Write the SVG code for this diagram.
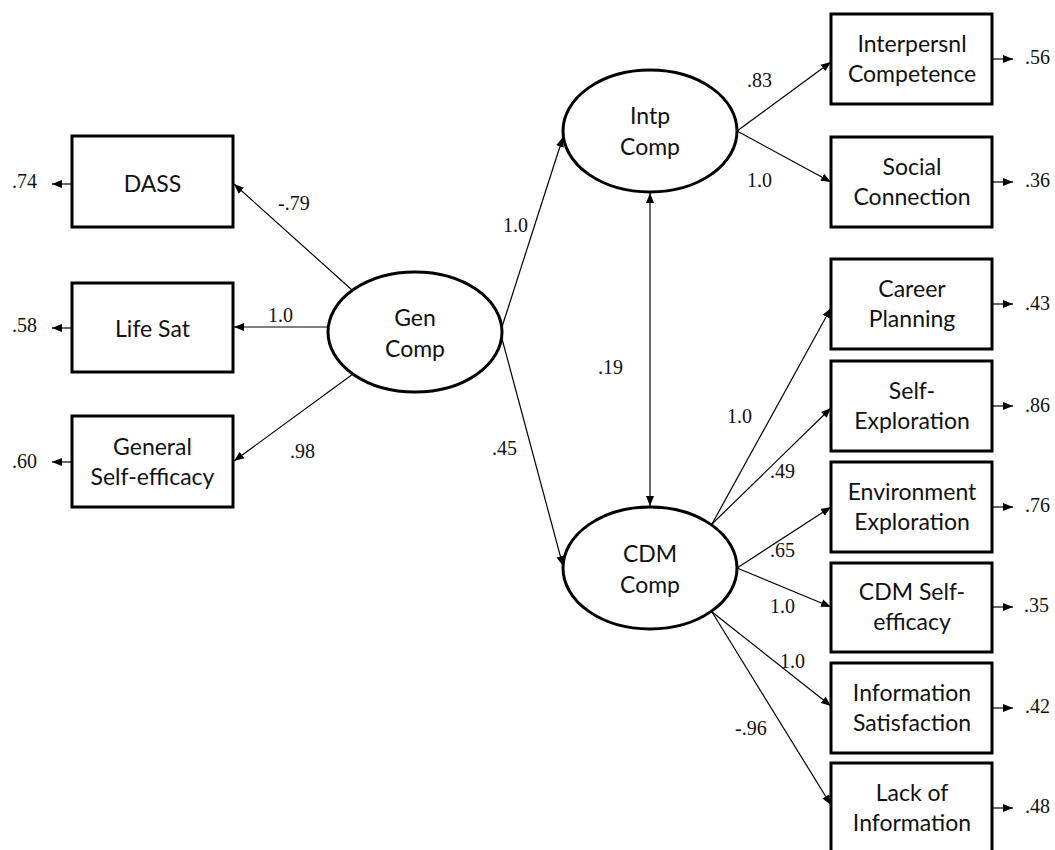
<svg xmlns="http://www.w3.org/2000/svg" width="1055" height="850" viewBox="0 0 1055 850">
<defs>
<marker id="ah" markerUnits="userSpaceOnUse" markerWidth="11" markerHeight="9" refX="10" refY="4" orient="auto-start-reverse" viewBox="0 0 11 8">
<path d="M0,0 L10,4 L0,8 z" fill="#000"/>
</marker>
<style>
.box{fill:#fff;stroke:#000;stroke-width:3}
.ell{fill:#fff;stroke:#000;stroke-width:3}
.t{font-family:Lato,"Open Sans",sans-serif;font-size:23px;fill:#111;text-anchor:middle}
.n{font-family:"Liberation Serif","Times New Roman",serif;font-size:20px;fill:#111}
.c{stroke:#000;stroke-width:1.2;fill:none;marker-end:url(#ah)}
.d{stroke:#000;stroke-width:1.2;fill:none;marker-end:url(#ah);marker-start:url(#ah)}
</style>
</defs>
<rect width="1055" height="850" fill="#fff"/>
<g id="connectors">
<line class="c" x1="352" y1="290" x2="234" y2="184"/>
<line class="c" x1="328" y1="327" x2="234" y2="327"/>
<line class="c" x1="353" y1="374" x2="234" y2="461"/>
<line class="c" x1="501" y1="330" x2="563" y2="137"/>
<line class="c" x1="501" y1="335" x2="563" y2="566"/>
<line class="d" x1="650" y1="193" x2="650" y2="506"/>
<line class="c" x1="737" y1="131" x2="831" y2="62"/>
<line class="c" x1="737" y1="131" x2="831" y2="182"/>
<line class="c" x1="712" y1="524" x2="831" y2="308"/>
<line class="c" x1="712" y1="524" x2="831" y2="408"/>
<line class="c" x1="737" y1="568" x2="831" y2="507"/>
<line class="c" x1="737" y1="568" x2="831" y2="607"/>
<line class="c" x1="712" y1="612" x2="831" y2="706"/>
<line class="c" x1="712" y1="612" x2="831" y2="805"/>
<line class="c" x1="72" y1="184" x2="52" y2="184"/>
<line class="c" x1="72" y1="328" x2="52" y2="328"/>
<line class="c" x1="72" y1="462" x2="52" y2="462"/>
<line class="c" x1="992" y1="59" x2="1013" y2="59"/>
<line class="c" x1="992" y1="182" x2="1013" y2="182"/>
<line class="c" x1="992" y1="304" x2="1013" y2="304"/>
<line class="c" x1="992" y1="406" x2="1013" y2="406"/>
<line class="c" x1="992" y1="507" x2="1013" y2="507"/>
<line class="c" x1="992" y1="607" x2="1013" y2="607"/>
<line class="c" x1="992" y1="708" x2="1013" y2="708"/>
<line class="c" x1="992" y1="808" x2="1013" y2="808"/>
</g>
<g id="path-labels">
<text class="n" x="278" y="210">-.79</text>
<text class="n" x="268" y="322">1.0</text>
<text class="n" x="290" y="458">.98</text>
<text class="n" x="503" y="232">1.0</text>
<text class="n" x="492" y="455">.45</text>
<text class="n" x="598" y="374">.19</text>
<text class="n" x="747" y="87">.83</text>
<text class="n" x="747" y="187">1.0</text>
<text class="n" x="727" y="423">1.0</text>
<text class="n" x="770" y="478">.49</text>
<text class="n" x="770" y="557">.65</text>
<text class="n" x="770" y="613">1.0</text>
<text class="n" x="780" y="668">1.0</text>
<text class="n" x="735" y="735">-.96</text>
<text class="n" x="12" y="188">.74</text>
<text class="n" x="12" y="332">.58</text>
<text class="n" x="12" y="468">.60</text>
<text class="n" x="1025" y="64">.56</text>
<text class="n" x="1025" y="187">.36</text>
<text class="n" x="1025" y="310">.43</text>
<text class="n" x="1025" y="412">.86</text>
<text class="n" x="1025" y="512">.76</text>
<text class="n" x="1024" y="612">.35</text>
<text class="n" x="1025" y="713">.42</text>
<text class="n" x="1025" y="813">.48</text>
</g>
<g id="DASS"><rect class="box" x="72" y="136" width="161" height="91"/><text class="t" x="152.5" y="192">DASS</text></g>
<g id="LifeSat"><rect class="box" x="72" y="283" width="161" height="89"/><text class="t" x="152.5" y="337">Life Sat</text></g>
<g id="GeneralSelfEfficacy"><rect class="box" x="72" y="416" width="161" height="91"/><text class="t" x="152.5" y="455">General</text><text class="t" x="152.5" y="485">Self-efficacy</text></g>
<g id="GenComp"><ellipse class="ell" cx="415" cy="332" rx="87" ry="60"/><text class="t" x="415" y="326">Gen</text><text class="t" x="415" y="357">Comp</text></g>
<g id="IntpComp"><ellipse class="ell" cx="650" cy="131" rx="87" ry="61"/><text class="t" x="650" y="124">Intp</text><text class="t" x="650" y="155">Comp</text></g>
<g id="CDMComp"><ellipse class="ell" cx="650" cy="568" rx="87" ry="61"/><text class="t" x="650" y="562">CDM</text><text class="t" x="650" y="593">Comp</text></g>
<g id="InterpersnlCompetence"><rect class="box" x="831" y="14" width="161" height="90"/><text class="t" x="912" y="52">Interpersnl</text><text class="t" x="912" y="82">Competence</text></g>
<g id="SocialConnection"><rect class="box" x="831" y="137" width="161" height="90"/><text class="t" x="912" y="175">Social</text><text class="t" x="912" y="205">Connection</text></g>
<g id="CareerPlanning"><rect class="box" x="831" y="259" width="161" height="90"/><text class="t" x="912" y="297">Career</text><text class="t" x="912" y="327">Planning</text></g>
<g id="SelfExploration"><rect class="box" x="831" y="361" width="161" height="90"/><text class="t" x="912" y="399">Self-</text><text class="t" x="912" y="429">Exploration</text></g>
<g id="EnvironmentExploration"><rect class="box" x="831" y="462" width="161" height="90"/><text class="t" x="912" y="500">Environment</text><text class="t" x="912" y="530">Exploration</text></g>
<g id="CDMSelfEfficacy"><rect class="box" x="831" y="563" width="161" height="89"/><text class="t" x="912" y="600">CDM Self-</text><text class="t" x="912" y="630">efficacy</text></g>
<g id="InformationSatisfaction"><rect class="box" x="831" y="663" width="161" height="90"/><text class="t" x="912" y="701">Information</text><text class="t" x="912" y="731">Satisfaction</text></g>
<g id="LackOfInformation"><rect class="box" x="831" y="763" width="161" height="92"/><text class="t" x="912" y="801">Lack of</text><text class="t" x="912" y="831">Information</text></g>
</svg>
